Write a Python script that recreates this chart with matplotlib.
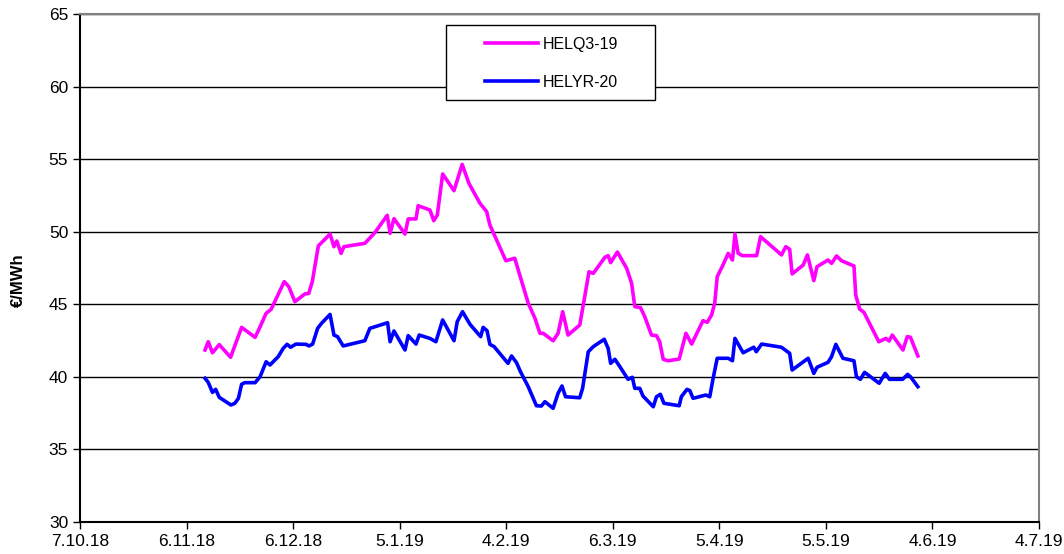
"""
HELQ3-19 / HELYR-20 forward prices, EUR/MWh
"""

import numpy as np
import pandas as pd
import matplotlib
matplotlib.use("Agg")
import matplotlib.pyplot as plt
import matplotlib.dates as mdates
from matplotlib.patches import Rectangle

plt.rcParams['font.family'] = ['Liberation Sans', 'DejaVu Sans']

start = pd.Timestamp('2018-10-07')

# days after 7.10.18
q3_days = [35.2, 36.1, 37.3, 39.2, 42.4, 45.5, 49.3, 50.7, 52.4, 53.8,
           57.5, 58.8, 60.5, 63.3, 64.4, 65.4, 67.1, 70.4, 71.5, 72.3,
           73.5, 74.3, 80.2, 83.0, 86.5, 87.3, 88.4, 91.5, 92.4, 94.6,
           95.2, 98.5, 99.6, 100.6, 102.1, 105.3, 107.6, 109.5, 112.6, 114.5,
           115.4, 119.9, 122.4, 126.2, 128.1, 129.5, 130.4, 133.2, 134.6, 135.9,
           137.4, 140.7, 142.1, 143.3, 144.5, 147.8, 148.7, 149.4, 151.3, 153.9,
           155.3, 156.2, 157.8, 159.0, 160.9, 162.3, 163.2, 164.2, 165.6, 168.7,
           170.6, 172.2, 175.4, 176.6, 177.8, 178.7, 179.4, 180.9, 182.5, 183.7,
           184.4, 185.3, 186.5, 190.5, 191.6, 197.5, 198.7, 199.8, 200.5, 203.6,
           204.8, 206.6, 207.5, 210.6, 211.6, 213.0, 214.4, 217.9, 218.4, 219.5,
           220.7, 224.9, 226.9, 227.8, 228.7, 231.7, 232.9, 233.8, 235.9]
q3_vals = [41.85, 42.42, 41.66, 42.22, 41.35, 43.41, 42.72, 43.45, 44.38, 44.65,
           46.56, 46.21, 45.18, 45.71, 45.75, 46.56, 49.02, 49.84, 48.97, 49.36,
           48.51, 48.97, 49.20, 49.93, 51.13, 49.89, 50.90, 49.84, 50.88, 50.88,
           51.79, 51.50, 50.76, 51.15, 53.98, 52.83, 54.64, 53.33, 51.96, 51.38,
           50.46, 48.00, 48.17, 45.07, 44.03, 43.00, 43.00, 42.49, 43.00, 44.49,
           42.88, 43.57, 45.52, 47.24, 47.13, 48.24, 48.35, 47.87, 48.60, 47.48,
           46.45, 44.84, 44.77, 44.15, 42.88, 42.84, 42.42, 41.21, 41.11, 41.23,
           43.00, 42.26, 43.87, 43.76, 44.26, 45.07, 46.90, 47.64, 48.51, 48.05,
           49.84, 48.51, 48.35, 48.35, 49.66, 48.40, 48.97, 48.79, 47.09, 47.70,
           48.40, 46.63, 47.59, 48.05, 47.82, 48.33, 48.00, 47.64, 45.64, 44.67,
           44.45, 42.42, 42.65, 42.47, 42.88, 41.85, 42.77, 42.73, 41.44]

yr_days = [35.2, 36.1, 37.3, 38.2, 39.2, 42.5, 43.6, 44.6, 45.5, 46.4,
           49.3, 50.7, 52.4, 53.5, 55.8, 57.2, 58.3, 59.3, 60.8, 63.6,
           64.5, 65.5, 66.9, 68.0, 70.4, 71.5, 72.5, 74.1, 80.2, 81.6,
           86.6, 87.3, 88.4, 91.5, 92.4, 94.6, 95.5, 98.5, 100.2, 102.1,
           105.3, 106.2, 107.7, 109.8, 112.8, 113.5, 114.6, 115.4, 116.6, 120.5,
           121.5, 122.9, 124.0, 126.2, 128.5, 129.9, 130.9, 133.2, 134.6, 135.7,
           136.7, 140.7, 141.5, 143.1, 144.5, 147.6, 148.7, 149.4, 150.6, 152.0,
           154.3, 155.5, 156.2, 157.6, 158.5, 161.4, 162.3, 163.4, 164.4, 168.7,
           169.3, 170.9, 171.7, 172.6, 176.2, 177.3, 178.2, 179.4, 182.5, 183.7,
           184.4, 186.7, 189.7, 190.4, 191.9, 197.5, 199.8, 200.5, 205.0, 206.6,
           207.5, 210.6, 211.6, 212.8, 214.8, 217.9, 218.6, 219.7, 220.9, 225.0,
           226.7, 227.9, 231.6, 233.0, 233.8, 235.9]
yr_vals = [39.90, 39.62, 38.93, 39.14, 38.59, 38.06, 38.18, 38.52, 39.49, 39.60,
           39.60, 40.01, 41.04, 40.82, 41.39, 41.96, 42.24, 42.04, 42.26, 42.24,
           42.13, 42.26, 43.34, 43.69, 44.30, 42.88, 42.77, 42.13, 42.49, 43.34,
           43.73, 42.42, 43.16, 41.85, 42.84, 42.26, 42.88, 42.65, 42.42, 43.92,
           42.49, 43.80, 44.49, 43.62, 42.77, 43.41, 43.18, 42.24, 42.08, 40.93,
           41.44, 40.98, 40.36, 39.32, 38.01, 37.99, 38.29, 37.83, 38.87, 39.37,
           38.63, 38.56, 39.21, 41.73, 42.08, 42.59, 41.96, 40.93, 41.21, 40.70,
           39.83, 39.97, 39.21, 39.21, 38.68, 37.94, 38.63, 38.80, 38.18, 38.01,
           38.63, 39.14, 39.05, 38.52, 38.75, 38.63, 39.83, 41.28, 41.28, 41.11,
           42.65, 41.66, 42.04, 41.73, 42.26, 42.04, 41.62, 40.47, 41.28, 40.24,
           40.66, 41.00, 41.39, 42.24, 41.28, 41.11, 40.01, 39.83, 40.31, 39.56,
           40.24, 39.83, 39.83, 40.17, 40.01, 39.32]

tick_dates = ['2018-10-07', '2018-11-06', '2018-12-06', '2019-01-05', '2019-02-04',
              '2019-03-06', '2019-04-05', '2019-05-05', '2019-06-04', '2019-07-04']

q3_x = start + pd.to_timedelta(q3_days, unit='D')
yr_x = start + pd.to_timedelta(yr_days, unit='D')
ticks = pd.to_datetime(tick_dates)

fig = plt.figure(figsize=(10.64, 5.54), dpi=100)
ax = fig.add_axes([80/1064, 32/554, 959/1064, 508/554])

ax.plot(q3_x, q3_vals, color='#FF00FF', lw=2.6, label='HELQ3-19', zorder=3)
ax.plot(yr_x, yr_vals, color='#0000FF', lw=2.6, label='HELYR-20', zorder=3)

ax.set_xlim(ticks[0], ticks[-1])
ax.set_ylim(30, 65)
ax.set_yticks(np.arange(30, 66, 5))
ax.set_xticks(ticks)
ax.xaxis.set_major_formatter(mdates.DateFormatter('%-d.%-m.%y'))
ax.yaxis.grid(True, color='black', lw=1)
ax.set_axisbelow(True)

ax.tick_params(axis='both', labelsize=12.5, direction='out', length=5, width=1, color='black')
ax.tick_params(axis='x', pad=4)
for s in ['left', 'bottom']:
    ax.spines[s].set_color('black')
    ax.spines[s].set_linewidth(1.5)
for s in ['top', 'right']:
    ax.spines[s].set_color('#808080')
    ax.spines[s].set_linewidth(1.5)

ax.set_ylabel('€/MWh', fontsize=12, fontweight='bold')
ax.yaxis.set_label_coords(-0.056, 0.476)

# legend box
ax.add_patch(Rectangle((0.3816, 0.8307), 0.218, 0.1476, transform=ax.transAxes,
                       facecolor='white', edgecolor='black', lw=1, zorder=5))
leg = ax.legend(loc='upper left', bbox_to_anchor=(0.4223, 0.955), frameon=False,
                fontsize=11.5, handlelength=3.3, handletextpad=0.3,
                labelspacing=1.45, borderpad=0, borderaxespad=0)
leg.set_zorder(6)

fig.savefig('out.png', dpi=100)
